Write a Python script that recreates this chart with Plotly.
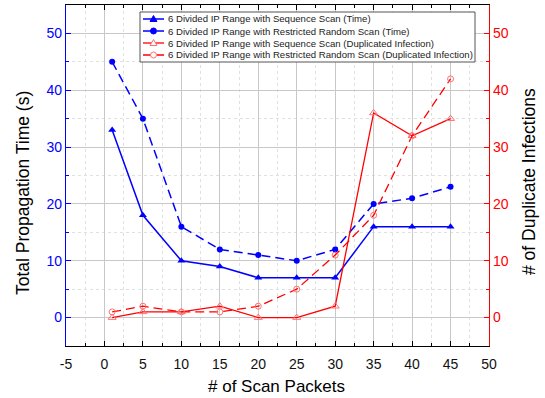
import plotly.graph_objects as go

scan_packets = [1, 5, 10, 15, 20, 25, 30, 35, 40, 45]
seq_time = [33, 18, 10, 9, 7, 7, 7, 16, 16, 16]
rand_time = [45, 35, 16, 12, 11, 10, 12, 20, 21, 23]
seq_dup = [0, 1, 1, 2, 0, 0, 2, 36, 32, 35]
rand_dup = [1, 2, 1, 1, 2, 5, 11, 18, 32, 42]

x_tick_vals = [-5, 0, 5, 10, 15, 20, 25, 30, 35, 40, 45, 50]
x_tick_text = ["-5", "0", "5", "10", "15", "20", "25", "30", "35", "40", "45", "50"]

names = [
    "6 Divided IP Range with Sequence Scan (Time)",
    "6 Divided IP Range with Restricted Random Scan (Time)",
    "6 Divided IP Range with Sequence Scan (Duplicated Infection)",
    "6 Divided IP Range with Restricted Random Scan (Duplicated Infection)",
]
x_title = "# of Scan Packets"
y_title = "Total Propagation Time (s)"
y2_title = "# of Duplicate Infections"

BLUE = "#0000ff"
RED = "#ff0000"
PINK = "#ff7070"
FONT = "Liberation Sans, Arial, sans-serif"
DASH = "9px,5px"

W, H = 545, 398
ML, MR, MT, MB = 66, 56, 5, 52
PW, PH = W - ML - MR, H - MT - MB


def px(x):
    return (x - ML) / PW


def py(y):
    return (H - MB - y) / PH


styles = [
    dict(line=dict(color=BLUE, width=1.5), marker=dict(symbol="triangle-up", size=7, color=BLUE), yaxis="y"),
    dict(line=dict(color=BLUE, width=1.5, dash=DASH), marker=dict(symbol="circle", size=6, color=BLUE), yaxis="y"),
    dict(line=dict(color=RED, width=1.3), marker=dict(symbol="triangle-up-open", size=7, color=PINK), yaxis="y2"),
    dict(line=dict(color=RED, width=1.3, dash=DASH), marker=dict(symbol="circle-open", size=6, color=PINK), yaxis="y2"),
]
series = [seq_time, rand_time, seq_dup, rand_dup]

fig = go.Figure()
for nm, vals, st in zip(names, series, styles):
    fig.add_trace(go.Scatter(x=scan_packets, y=vals, name=nm, mode="lines+markers", **st))

# custom compact legend
shapes = [dict(type="rect", xref="paper", yref="paper", x0=px(140), x1=px(475), y0=py(62), y1=py(12),
               line=dict(color="#555", width=1), fillcolor="white", layer="above")]
annotations = []
row_y = [19, 31, 43, 55]
for i, (nm, st) in enumerate(zip(names, styles)):
    yy = py(row_y[i])
    ln = st["line"]
    shapes.append(dict(type="line", xref="paper", yref="paper", x0=px(143), x1=px(164), y0=yy, y1=yy,
                       line=dict(color=ln["color"], width=ln["width"], dash=ln.get("dash", "solid")),
                       layer="above"))
    mk = st["marker"]
    filled = not mk["symbol"].endswith("open")
    fill = mk["color"] if filled else "white"
    if mk["symbol"].startswith("circle"):
        shapes.append(dict(type="circle", xref="paper", yref="paper", xsizemode="pixel", ysizemode="pixel",
                           xanchor=px(153.5), yanchor=yy, x0=-3, x1=3, y0=-3, y1=3,
                           line=dict(color=mk["color"], width=1), fillcolor=fill, layer="above"))
    else:
        shapes.append(dict(type="path", xref="paper", yref="paper", xsizemode="pixel", ysizemode="pixel",
                           xanchor=px(153.5), yanchor=yy, path="M -3.5 -2.5 L 3.5 -2.5 L 0 3.5 Z",
                           line=dict(color=mk["color"], width=1), fillcolor=fill, layer="above"))
    annotations.append(dict(xref="paper", yref="paper", x=px(166), y=yy, xanchor="left", yanchor="middle",
                            text=nm, showarrow=False, font=dict(size=9.6, family=FONT, color="#222")))

# axis titles
TF = dict(size=17.5, family=FONT, color="black")
annotations.append(dict(xref="paper", yref="paper", x=px(276), y=py(397.5), xanchor="center", yanchor="bottom",
                        text=x_title, showarrow=False, font=dict(size=17, family=FONT, color="black")))
annotations.append(dict(xref="paper", yref="paper", x=px(23), y=py(193), xanchor="center", yanchor="middle",
                        text=y_title, textangle=-90, showarrow=False, font=TF))
annotations.append(dict(xref="paper", yref="paper", x=px(529), y=py(182), xanchor="center", yanchor="middle",
                        text=y2_title, textangle=-90, showarrow=False, font=TF))

grid = "#c8c8c8"
fig.update_layout(
    width=W, height=H,
    margin=dict(l=ML, r=MR, t=MT, b=MB),
    paper_bgcolor="white", plot_bgcolor="white",
    font=dict(family=FONT, size=14, color="black"),
    showlegend=False,
    shapes=shapes,
    annotations=annotations,
    xaxis=dict(
        range=[-5, 50], tickmode="array", tickvals=x_tick_vals, ticktext=x_tick_text, automargin=False,
        showline=True, linecolor="black", linewidth=1.2, mirror="ticks",
        ticks="inside", ticklen=5, tickcolor="black",
        ticklabelstandoff=5,
        tickfont=dict(size=14, color="#111"),
        showgrid=True, gridcolor=grid, gridwidth=1,
        zeroline=False,
        minor=dict(dtick=2.5, tick0=0, showgrid=True, gridcolor="#e0e0e0", griddash="dot",
                   ticks="inside", ticklen=3, tickcolor="black"),
    ),
    yaxis=dict(
        range=[-5, 55], dtick=10, tick0=0, automargin=False,
        showline=True, linecolor=BLUE, linewidth=1.2,
        ticks="inside", ticklen=5, tickcolor=BLUE,
        tickfont=dict(color=BLUE, size=14),
        showgrid=True, gridcolor=grid, gridwidth=1,
        zeroline=False,
        minor=dict(dtick=5, showgrid=True, gridcolor="#e0e0e0", griddash="dot",
                   ticks="inside", ticklen=3, tickcolor=BLUE),
    ),
    yaxis2=dict(
        range=[-5, 55], dtick=10, tick0=0, overlaying="y", side="right", automargin=False,
        showline=True, linecolor=RED, linewidth=1.2,
        ticks="inside", ticklen=5, tickcolor=RED,
        tickfont=dict(color=RED, size=14),
        showgrid=False, zeroline=False,
        minor=dict(dtick=5, ticks="inside", ticklen=3, tickcolor=RED),
    ),
)

fig.write_html("out.html", config={"displayModeBar": False},
               post_script="document.body.style.margin='0';document.body.style.overflow='hidden';")
